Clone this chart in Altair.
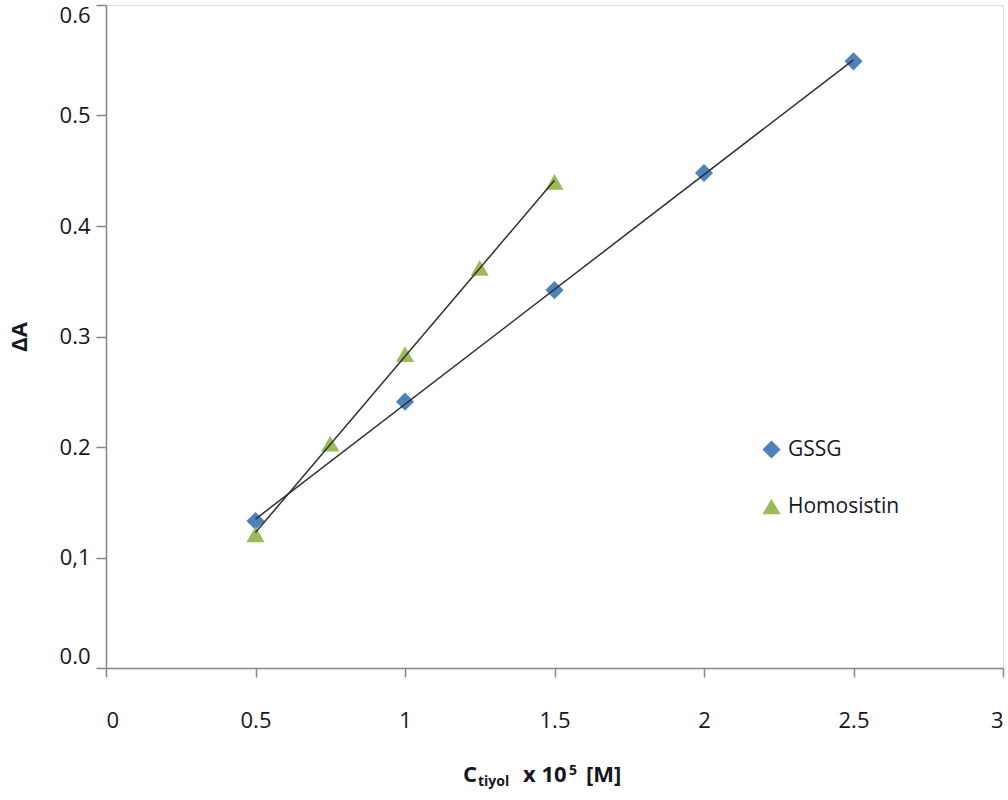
import altair as alt
import pandas as pd

# Calibration series: absorbance change vs. thiol concentration (x 10^5 M)
GSSG_X = [0.5, 1.0, 1.5, 2.0, 2.5]
GSSG_Y = [0.133, 0.241, 0.342, 0.448, 0.549]

HOMO_X = [0.5, 0.75, 1.0, 1.25, 1.5]
HOMO_Y = [0.121, 0.203, 0.284, 0.362, 0.440]

SERIES = ["GSSG", "Homosistin"]
COLORS = ["#4F81BD", "#9BBB59"]
SHAPES = ["diamond", "triangle-up"]

X_TICKS = [0, 0.5, 1, 1.5, 2, 2.5, 3]
X_TICK_LABELS = ["0", "0.5", "1", "1.5", "2", "2.5", "3"]
Y_TICKS = [0, 0.1, 0.2, 0.3, 0.4, 0.5, 0.6]
Y_TICK_LABELS = ["0.0", "0,1", "0.2", "0.3", "0.4", "0.5", "0.6"]

FONT = "Open Sans"
TEXT = "#16161f"
AXIS_GRAY = "#878787"

df = pd.DataFrame(
    {
        "x": GSSG_X + HOMO_X,
        "y": GSSG_Y + HOMO_Y,
        "series": [SERIES[0]] * len(GSSG_X) + [SERIES[1]] * len(HOMO_X),
    }
)

W, H = 897, 663


def label_expr(labels, step):
    arr = "[" + ",".join("'" + s + "'" for s in labels) + "]"
    return f"{arr}[round(datum.value / {step})]"


x_enc = alt.X(
    "x:Q",
    scale=alt.Scale(domain=[0, 3], nice=False, zero=True),
    axis=alt.Axis(
        values=X_TICKS,
        labelExpr=label_expr(X_TICK_LABELS, 0.5),
        title=None,
        grid=False,
        tickSize=9,
        labelPadding=33,
        labelFlush=True,
        labelFontSize=22,
        labelColor=TEXT,
        labelFont=FONT,
        domainColor=AXIS_GRAY,
        tickColor=AXIS_GRAY,
        domainWidth=1.5,
        tickWidth=1.5,
    ),
)

y_enc = alt.Y(
    "y:Q",
    scale=alt.Scale(domain=[0, 0.6], nice=False),
    axis=alt.Axis(
        values=Y_TICKS,
        labelExpr=label_expr(Y_TICK_LABELS, 0.1),
        title="ΔA",
        titleFont=FONT,
        titleFontSize=22,
        titleFontWeight="bold",
        titleColor=TEXT,
        titleX=-80,
        titleBaseline="alphabetic",
        grid=False,
        tickSize=10,
        labelPadding=6,
        labelFlush=True,
        labelFontSize=22,
        labelColor=TEXT,
        labelFont=FONT,
        domainColor=AXIS_GRAY,
        tickColor=AXIS_GRAY,
        domainWidth=1.5,
        tickWidth=1.5,
    ),
)

points = (
    alt.Chart(df)
    .mark_point(filled=True, size=330, opacity=1, strokeWidth=0)
    .encode(
        x=x_enc,
        y=y_enc,
        color=alt.Color(
            "series:N",
            scale=alt.Scale(domain=SERIES, range=COLORS),
            legend=alt.Legend(
                title=None,
                orient="none",
                legendX=655,
                legendY=434,
                padding=0,
                symbolSize=330,
                symbolStrokeWidth=0,
                labelFontSize=21,
                labelFont=FONT,
                labelColor=TEXT,
                labelOffset=6,
                rowPadding=35,
            ),
        ),
        shape=alt.Shape("series:N", scale=alt.Scale(domain=SERIES, range=SHAPES)),
    )
)

# Linear trend lines over each series' own x range
trend = (
    alt.Chart(df)
    .transform_regression("x", "y", groupby=["series"])
    .mark_line(color="#2e2e2e", strokeWidth=1.5)
    .encode(x="x:Q", y="y:Q", detail="series:N")
)

one_row = alt.Data(values=[{}])


def title_piece(text, x, y, size):
    return (
        alt.Chart(one_row)
        .mark_text(
            text=text,
            align="left",
            baseline="alphabetic",
            font=FONT,
            fontSize=size,
            fontWeight="bold",
            color=TEXT,
        )
        .encode(x=alt.value(x), y=alt.value(y))
    )


# x-axis title: C_tiyol x 10^5 [M]
x_title = (
    title_piece("C", 357, 777, 22)
    + title_piece("tiyol", 372, 781, 14)
    + title_piece("x 10", 417, 777, 22)
    + title_piece("5", 463, 770, 14)
    + title_piece("[M]", 480, 777, 22)
)

chart = (
    alt.layer(points, trend, x_title)
    .properties(
        width=W,
        height=H,
        autosize=alt.AutoSizeParams(type="none"),
        padding={"left": 106, "top": 5, "right": 5, "bottom": 132},
        background="white",
    )
    .configure_view(stroke="#c6c6c6", strokeWidth=2.5)
    .configure(font=FONT)
)

chart.save("out.html", embed_options={"renderer": "svg", "actions": False})
